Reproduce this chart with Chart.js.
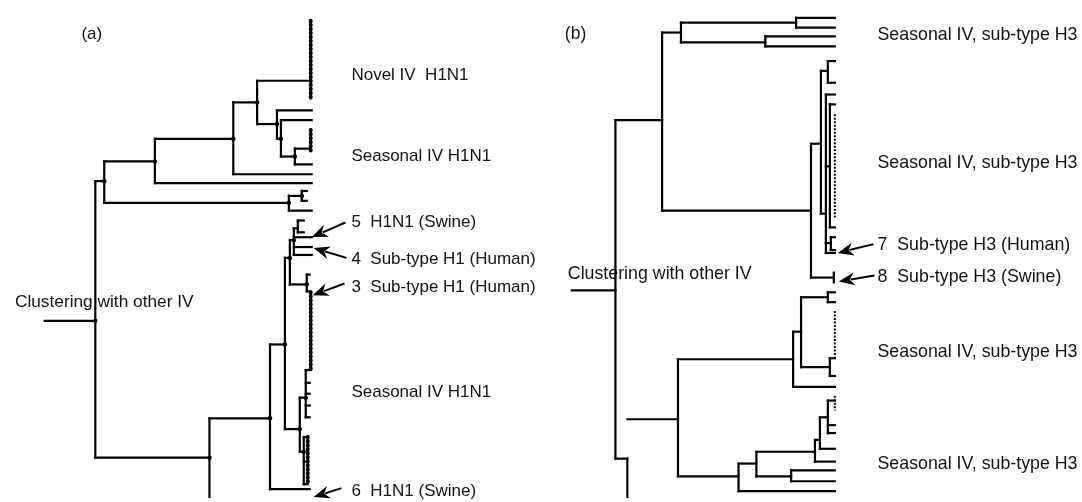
<!DOCTYPE html>
<html>
<head>
<meta charset="utf-8">
<script src="https://cdn.jsdelivr.net/npm/chart.js@4.4.1/dist/chart.umd.min.js"></script>
<style>
  html, body { margin: 0; padding: 0; background: #fff; }
  #wrap { width: 1082px; height: 502px; }
</style>
</head>
<body>
<div id="wrap"><canvas id="tree" width="1082" height="502"></canvas></div>
<script>
// tree (a) : vertical branches [depth, top, bottom]
const vBranchA = [
  [92, 180, 461], [101, 160, 202], [152, 137, 182], [231, 100, 173],
  [255, 78, 122], [275, 108, 137], [279, 118, 155], [293, 147, 163],
  [287, 195, 210], [300, 190, 200], [207, 421, 512], [268, 346, 493],
  [283, 258, 432], [288, 240, 285], [292, 228, 255], [296, 220, 232],
  [305, 275, 292], [298, 400, 455], [304, 372, 420], [302, 440, 488]
];
// tree (a) : horizontal branches [row, from, to]
const hBranchA = [
  [322, 41, 92], [180, 92, 101], [461, 92, 207], [160, 101, 152],
  [202, 101, 287], [137, 152, 231], [182, 152, 310], [100, 231, 255],
  [173, 231, 310], [78, 255, 309], [122, 255, 275], [108, 275, 310],
  [137, 275, 279], [118, 279, 310], [155, 279, 293], [147, 293, 308],
  [163, 293, 310], [195, 287, 300], [190, 300, 305], [200, 300, 305],
  [210, 287, 310], [421, 207, 268], [346, 268, 283], [493, 268, 308],
  [258, 283, 288], [432, 283, 298], [285, 288, 305], [240, 288, 292],
  [237, 292, 310], [247, 292, 310], [255, 292, 310], [228, 292, 296],
  [220, 296, 302], [232, 296, 302], [275, 305, 308], [292, 305, 308],
  [372, 304, 309], [385, 304, 308], [396, 304, 308], [408, 304, 308],
  [420, 304, 308], [400, 298, 304], [455, 298, 302], [440, 302, 306],
  [465, 302, 306], [488, 302, 306]
];
// tree (a) : dense tip columns [depth, top, bottom]
const tipColumnA = [[309, 17, 97], [309, 128, 150], [309, 293, 372], [306, 440, 488]];
// tree (a) : node markers [depth, row]
const nodeA = [
  [92, 322], [101, 180], [152, 160], [231, 137], [255, 100], [275, 122],
  [279, 137], [293, 155], [287, 202], [207, 461], [268, 421], [283, 346],
  [288, 258], [298, 432], [292, 240], [300, 195], [305, 285], [304, 400], [302, 455]
];

// tree (b)
const vBranchB = [
  [616, 118, 462], [663, 29, 210], [682, 19, 39], [798, 14, 24],
  [767, 33, 43], [813, 142, 278], [823, 68, 213], [830, 58, 80],
  [828, 92, 253], [832, 102, 227], [833, 237, 250], [836, 273, 283],
  [628, 462, 512], [679, 361, 480], [795, 334, 389], [803, 298, 369],
  [830, 293, 303], [832, 360, 378], [740, 467, 495], [758, 455, 480],
  [817, 443, 465], [822, 420, 452], [830, 403, 436], [793, 474, 485]
];
const hBranchB = [
  [291, 572, 616], [118, 616, 663], [462, 616, 628], [29, 663, 682],
  [210, 663, 813], [19, 682, 798], [39, 682, 767], [14, 798, 837],
  [24, 798, 837], [33, 767, 837], [43, 767, 837], [142, 813, 823],
  [278, 813, 836], [68, 823, 830], [58, 830, 837], [80, 830, 837],
  [213, 823, 828], [92, 828, 837], [253, 828, 837], [243, 828, 833],
  [237, 833, 837], [250, 833, 837], [102, 832, 837], [227, 832, 837],
  [165, 828, 832], [422, 628, 679], [361, 679, 795], [480, 679, 740],
  [389, 795, 837], [333, 795, 803], [298, 803, 830], [293, 830, 837],
  [303, 830, 837], [369, 803, 832], [360, 832, 837], [378, 832, 837],
  [495, 740, 837], [467, 740, 758], [455, 758, 817], [480, 758, 793],
  [474, 793, 837], [485, 793, 837], [443, 817, 822], [465, 817, 837],
  [420, 822, 830], [452, 822, 837], [403, 830, 837], [436, 830, 837],
  [428, 830, 837]
];
const tipColumnB = [[837, 112, 217], [837, 312, 360], [837, 398, 413]];

// labels [text, depth, row, size]
const labels = [
  ['(a)', 78, 31, 17], ['(b)', 565, 31, 17.5],
  ['Novel IV  H1N1', 350, 72, 17], ['Seasonal IV H1N1', 350, 155, 17],
  ['5  H1N1 (Swine)', 350, 222, 17], ['4  Sub-type H1 (Human)', 350, 259, 17],
  ['3  Sub-type H1 (Human)', 350, 288, 17], ['Seasonal IV H1N1', 350, 395, 17],
  ['6  H1N1 (Swine)', 350, 495, 17], ['Clustering with other IV', 11, 303, 17.3],
  ['Seasonal IV, sub-type H3', 880, 32, 17.8], ['Seasonal IV, sub-type H3', 880, 162, 17.8],
  ['7  Sub-type H3 (Human)', 880, 245, 17.8], ['8  Sub-type H3 (Swine)', 880, 278, 17.8],
  ['Seasonal IV, sub-type H3', 880, 354, 17.8], ['Seasonal IV, sub-type H3', 880, 468, 17.8],
  ['Clustering with other IV', 568, 274, 17.8]
];
// arrows [fromX, fromY, tipX, tipY]
const arrows = [
  [344, 222, 310, 237], [345, 258, 312, 248], [343, 284, 311, 296],
  [340, 492, 312, 501], [876, 244, 840, 253], [877, 276, 841, 282]
];

function seg(p1, p2, extra) {
  return Object.assign({
    data: [p1, p2], showLine: true, borderColor: '#000', borderWidth: 2.2,
    pointRadius: 0, borderCapStyle: 'square', fill: false
  }, extra || {});
}

const datasets = [];
vBranchA.concat(vBranchB).forEach(function(b) {
  datasets.push(seg({x: b[0], y: b[1]}, {x: b[0], y: b[2]}));
});
hBranchA.concat(hBranchB).forEach(function(b) {
  datasets.push(seg({x: b[1], y: b[0]}, {x: b[2], y: b[0]}));
});
// colonnes de feuilles : perles serrees
tipColumnA.forEach(function(c) {
  datasets.push(seg({x: c[0], y: c[1]}, {x: c[0], y: c[2]},
    {borderWidth: 2, borderCapStyle: 'butt'}));
  datasets.push(seg({x: c[0], y: c[1]}, {x: c[0], y: c[2]},
    {borderWidth: 4, borderDash: [0.5, 3.5], borderCapStyle: 'round'}));
});
tipColumnB.forEach(function(c) {
  datasets.push(seg({x: c[0], y: c[1]}, {x: c[0], y: c[2]},
    {borderWidth: 2, borderDash: [2, 1.5], borderCapStyle: 'butt'}));
});
datasets.push({
  data: nodeA.map(function(n) { return {x: n[0], y: n[1]}; }),
  showLine: false, pointRadius: 2.2, pointBackgroundColor: '#000', pointBorderWidth: 0
});

// texte et fleches, positionnes par les echelles
const annotate = {
  id: 'annotate',
  afterDatasetsDraw: function(chart) {
    const ctx = chart.ctx, xs = chart.scales.x, ys = chart.scales.y;
    ctx.save();
    ctx.fillStyle = '#111';
    ctx.textBaseline = 'middle';
    ctx.textAlign = 'left';
    labels.forEach(function(l) {
      ctx.font = l[3] + 'px "Liberation Sans", Arial, sans-serif';
      ctx.fillText(l[0], xs.getPixelForValue(l[1]), ys.getPixelForValue(l[2]));
    });
    ctx.strokeStyle = '#000';
    ctx.lineWidth = 2;
    arrows.forEach(function(a) {
      const x1 = xs.getPixelForValue(a[0]), y1 = ys.getPixelForValue(a[1]);
      const x2 = xs.getPixelForValue(a[2]), y2 = ys.getPixelForValue(a[3]);
      const ang = Math.atan2(y2 - y1, x2 - x1);
      const len = 16, half = 6.5;
      const bx = x2 - Math.cos(ang) * len, by = y2 - Math.sin(ang) * len;
      ctx.beginPath();
      ctx.moveTo(x1, y1);
      ctx.lineTo(bx + Math.cos(ang) * 4, by + Math.sin(ang) * 4);
      ctx.stroke();
      ctx.beginPath();
      ctx.moveTo(x2, y2);
      ctx.lineTo(bx - Math.sin(ang) * half, by + Math.cos(ang) * half);
      ctx.lineTo(bx + Math.cos(ang) * 5, by + Math.sin(ang) * 5);
      ctx.lineTo(bx + Math.sin(ang) * half, by - Math.cos(ang) * half);
      ctx.closePath();
      ctx.fillStyle = '#000';
      ctx.fill();
    });
    ctx.restore();
  }
};

new Chart(document.getElementById('tree').getContext('2d'), {
  type: 'scatter',
  data: { datasets: datasets },
  options: {
    responsive: false,
    animation: false,
    layout: { padding: 0 },
    plugins: { legend: { display: false }, tooltip: { enabled: false } },
    scales: {
      x: { type: 'linear', min: 0, max: 1082, display: false },
      y: { type: 'linear', min: 0, max: 502, reverse: true, display: false }
    }
  },
  plugins: [annotate]
});
</script>
</body>
</html>
